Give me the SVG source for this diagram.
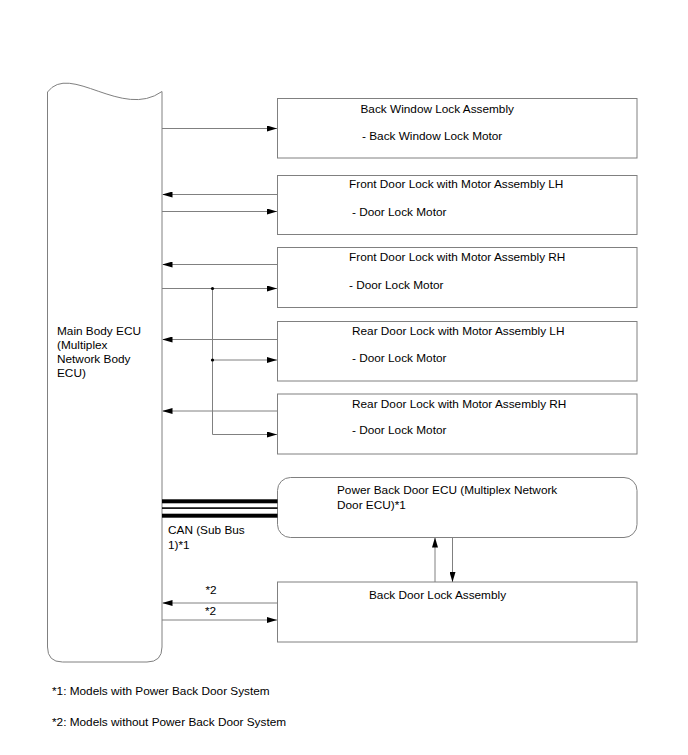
<svg xmlns="http://www.w3.org/2000/svg" width="688" height="755" viewBox="0 0 688 755">
<style>
.box{fill:#fff;stroke:#808080;stroke-width:1}
.ln{fill:none;stroke:#808080;stroke-width:1}
.t{font-family:"Liberation Sans",Arial,sans-serif;font-size:11.8px;fill:#000}
.can{fill:#000}
</style>
<defs>
<marker id="ah" viewBox="0 0 10 6" refX="10" refY="3" markerWidth="10" markerHeight="6" markerUnits="userSpaceOnUse" orient="auto">
<path d="M0,0 L10,3 L0,6 Z" fill="#000"/>
</marker>
</defs>
<rect width="688" height="755" fill="#fff"/>

<g id="main-body-ecu">
<path class="box" d="M47.5,92 C70,62 122,120 162,91.5 L162,647 Q162,662 147,662 L62.5,662 Q47.5,662 47.5,647 Z"/>
<text class="t" x="57" y="335">Main Body ECU</text>
<text class="t" x="57" y="349">(Multiplex</text>
<text class="t" x="57" y="363">Network Body</text>
<text class="t" x="57" y="377">ECU)</text>
</g>

<g id="back-window-lock">
<rect class="box" x="277.5" y="98.5" width="359.5" height="59.5"/>
<text class="t" x="360.5" y="112.5">Back Window Lock Assembly</text>
<text class="t" x="362" y="140">- Back Window Lock Motor</text>
</g>

<g id="front-door-lh">
<rect class="box" x="277.5" y="175.5" width="359.5" height="59"/>
<text class="t" x="349" y="188">Front Door Lock with Motor Assembly LH</text>
<text class="t" x="352" y="216">- Door Lock Motor</text>
</g>

<g id="front-door-rh">
<rect class="box" x="277.5" y="247.5" width="359.5" height="60"/>
<text class="t" x="349" y="261">Front Door Lock with Motor Assembly RH</text>
<text class="t" x="349" y="289">- Door Lock Motor</text>
</g>

<g id="rear-door-lh">
<rect class="box" x="277.5" y="321.5" width="359.5" height="59.5"/>
<text class="t" x="352" y="335">Rear Door Lock with Motor Assembly LH</text>
<text class="t" x="352" y="362">- Door Lock Motor</text>
</g>

<g id="rear-door-rh">
<rect class="box" x="277.5" y="394" width="359.5" height="60"/>
<text class="t" x="352" y="408">Rear Door Lock with Motor Assembly RH</text>
<text class="t" x="352" y="434">- Door Lock Motor</text>
</g>

<g id="power-back-door-ecu">
<rect class="box" x="277.5" y="477.5" width="359.5" height="60" rx="13" ry="13"/>
<text class="t" x="337" y="494">Power Back Door ECU (Multiplex Network</text>
<text class="t" x="337" y="509">Door ECU)*1</text>
</g>

<g id="back-door-lock">
<rect class="box" x="277.5" y="582" width="359.5" height="60"/>
<text class="t" x="369" y="599">Back Door Lock Assembly</text>
</g>

<g id="connectors">
<line class="ln" x1="162" y1="128.5" x2="277" y2="128.5" marker-end="url(#ah)"/>
<line class="ln" x1="277" y1="194.5" x2="162.5" y2="194.5" marker-end="url(#ah)"/>
<line class="ln" x1="162" y1="211.5" x2="277" y2="211.5" marker-end="url(#ah)"/>
<line class="ln" x1="277" y1="264.5" x2="162.5" y2="264.5" marker-end="url(#ah)"/>
<line class="ln" x1="162" y1="288.5" x2="277" y2="288.5" marker-end="url(#ah)"/>
<line class="ln" x1="277" y1="339.5" x2="162.5" y2="339.5" marker-end="url(#ah)"/>
<line class="ln" x1="212.5" y1="360" x2="277" y2="360" marker-end="url(#ah)"/>
<line class="ln" x1="277" y1="411" x2="162.5" y2="411" marker-end="url(#ah)"/>
<line class="ln" x1="212.5" y1="288.5" x2="212.5" y2="434.5"/>
<line class="ln" x1="212.5" y1="434.5" x2="277" y2="434.5" marker-end="url(#ah)"/>
<circle cx="212.5" cy="288.5" r="1.6" fill="#000"/>
<circle cx="212.5" cy="360" r="1.6" fill="#000"/>
<rect class="can" x="162" y="499.3" width="115.5" height="4"/>
<rect class="can" x="162" y="507.3" width="115.5" height="1.6"/>
<rect class="can" x="162" y="513.7" width="115.5" height="4"/>
<text class="t" x="168" y="534">CAN (Sub Bus</text>
<text class="t" x="168" y="549">1)*1</text>
<line class="ln" x1="435" y1="582" x2="435" y2="537.5" marker-end="url(#ah)"/>
<line class="ln" x1="452.5" y1="537.5" x2="452.5" y2="582" marker-end="url(#ah)"/>
<line class="ln" x1="277" y1="603" x2="162.5" y2="603" marker-end="url(#ah)"/>
<line class="ln" x1="162" y1="620" x2="277" y2="620" marker-end="url(#ah)"/>
<text class="t" x="205.5" y="594">*2</text>
<text class="t" x="205" y="615">*2</text>
</g>

<text class="t" x="52" y="695">*1: Models with Power Back Door System</text>
<text class="t" x="52" y="726">*2: Models without Power Back Door System</text>
</svg>
